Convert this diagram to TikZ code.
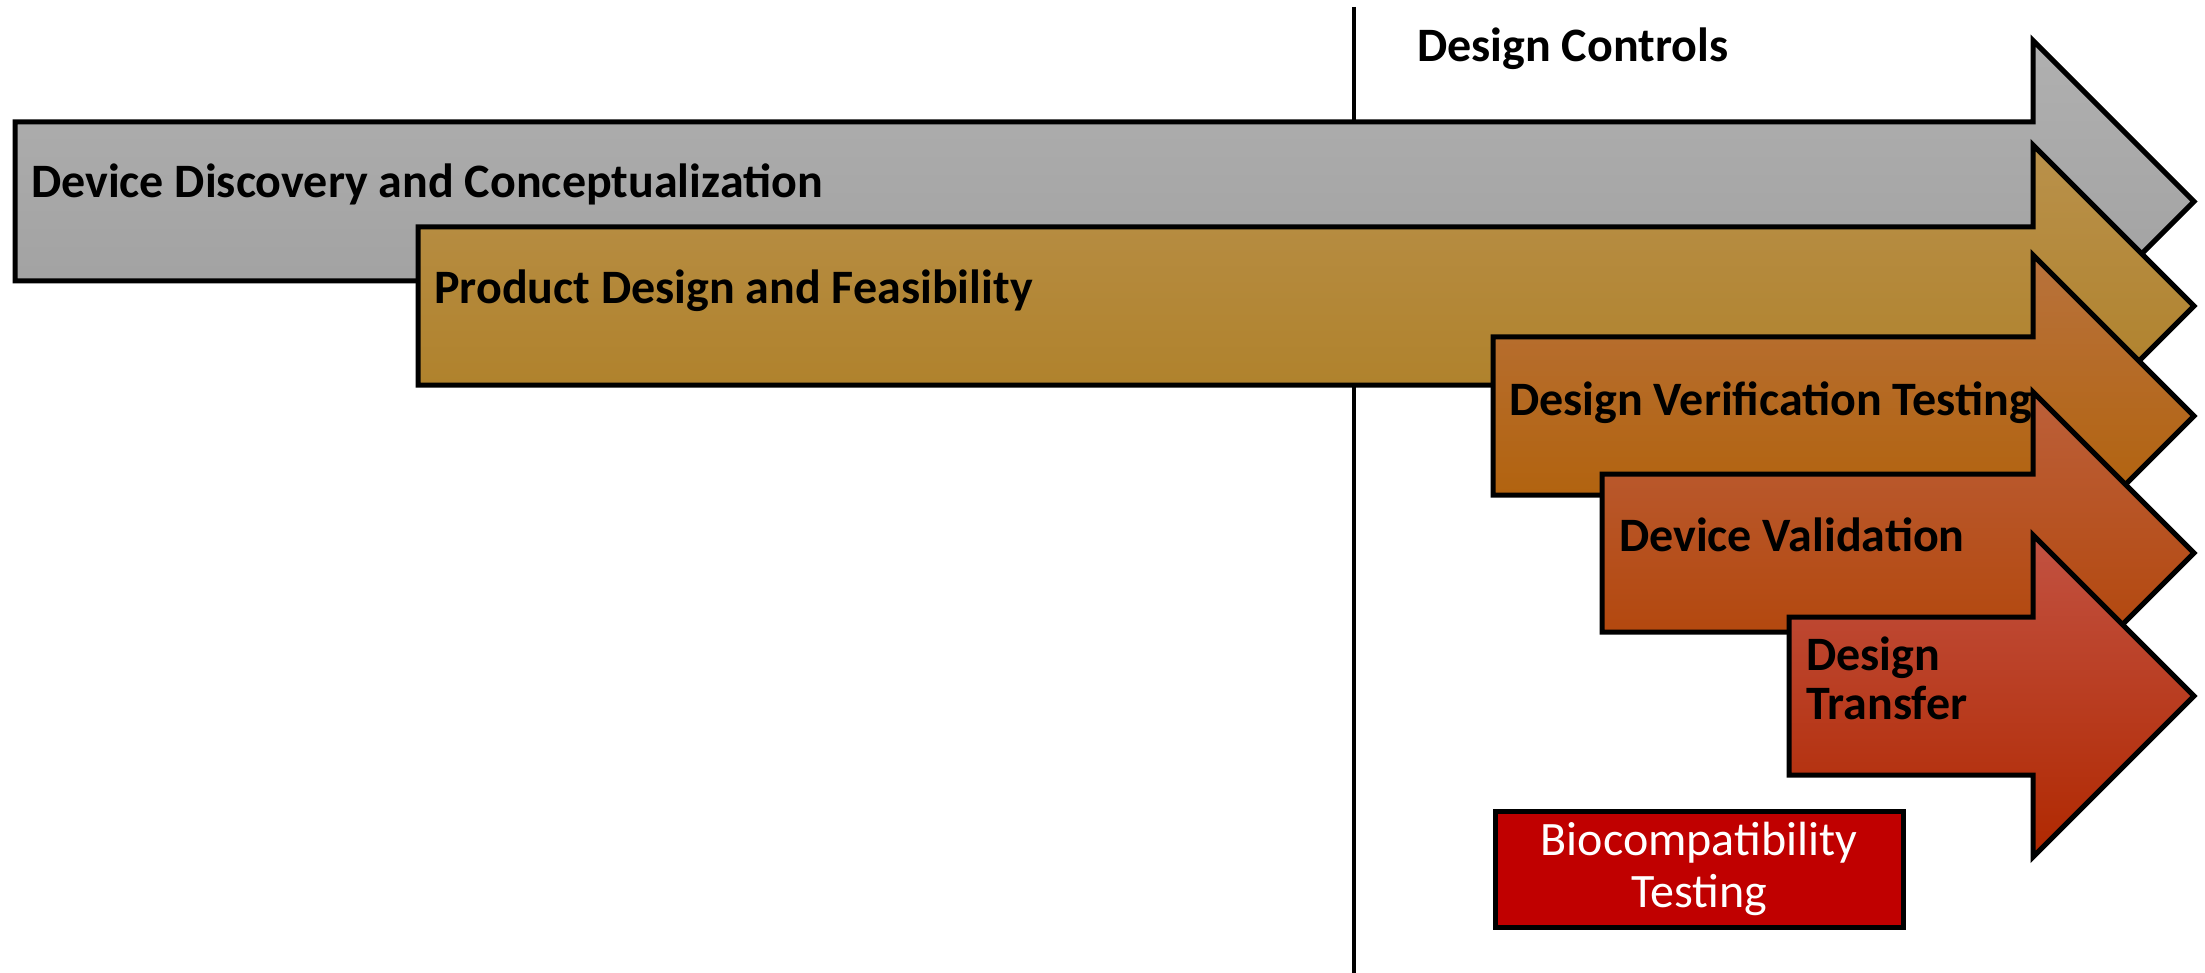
\documentclass[tikz,border=0pt]{standalone}
\usepackage{fontspec}
\setmainfont{Carlito}
\begin{document}
\begin{tikzpicture}[x=1pt,y=-1pt,
  outline/.style={draw=black,line width=5pt,line join=miter},
  phase/.style={font=\fontsize{48}{50}\selectfont\bfseries,inner sep=0pt,anchor=base west,align=left},
  % arrow shape: left edge, shaft top, shaft bottom
  pics/phasearrow/.style n args={3}{code={
    \path[outline,pic actions]
      (#1,#2) -- (2033,#2) -- (2033,{(#2+#3)/2-161}) -- (2194,{(#2+#3)/2})
      -- (2033,{(#2+#3)/2+161}) -- (2033,#3) -- (#1,#3) -- cycle;
  }}
]
\useasboundingbox (0,0) rectangle (2205,973);

% boundary of the design-controls region
\coordinate (lineTop) at (1354,7);
\coordinate (lineBot) at (1354,973);
\draw[line width=4pt] (lineTop) -- (lineBot);
\node[phase] (dc) at (1417,62) {Design Controls};

% phase arrows, back to front
\pic[top color=black!31,bottom color=black!38] {phasearrow={15}{122}{281}};
\node[phase] (ddc) at (31,198) {Device Discovery and Conceptualization};

\pic[top color={rgb,255:red,185;green,145;blue,75},bottom color={rgb,255:red,173;green,125;blue,34}] {phasearrow={418}{227}{385}};
\node[phase] (pdf) at (434,304) {Product Design and Feasibility};

\pic[top color={rgb,255:red,184;green,114;blue,60},bottom color={rgb,255:red,176;green,94;blue,0}] {phasearrow={1493}{337}{495}};
\node[phase] (dvt) at (1509,415) {Design Verification Testing};

\pic[top color={rgb,255:red,188;green,96;blue,58},bottom color={rgb,255:red,176;green,64;blue,0}] {phasearrow={1602}{474}{632}};
\node[phase] (dv) at (1619,551) {Device Validation};

\pic[top color={rgb,255:red,194;green,82;blue,66},bottom color={rgb,255:red,176;green,40;blue,0}] {phasearrow={1789}{617}{775}};
\node[phase] (dtA) at (1806,670) {Design};
\node[phase] (dtB) at (1806,719) {Transfer};

% biocompatibility box
\node[outline,fill={rgb,255:red,192;green,0;blue,0},minimum width=408pt,minimum height=116pt,
      text=white,align=center,font=\fontsize{48}{52}\selectfont,inner sep=0pt]
  (bio) at (1699,869) {Biocompatibility\\Testing};
\end{tikzpicture}
\end{document}
